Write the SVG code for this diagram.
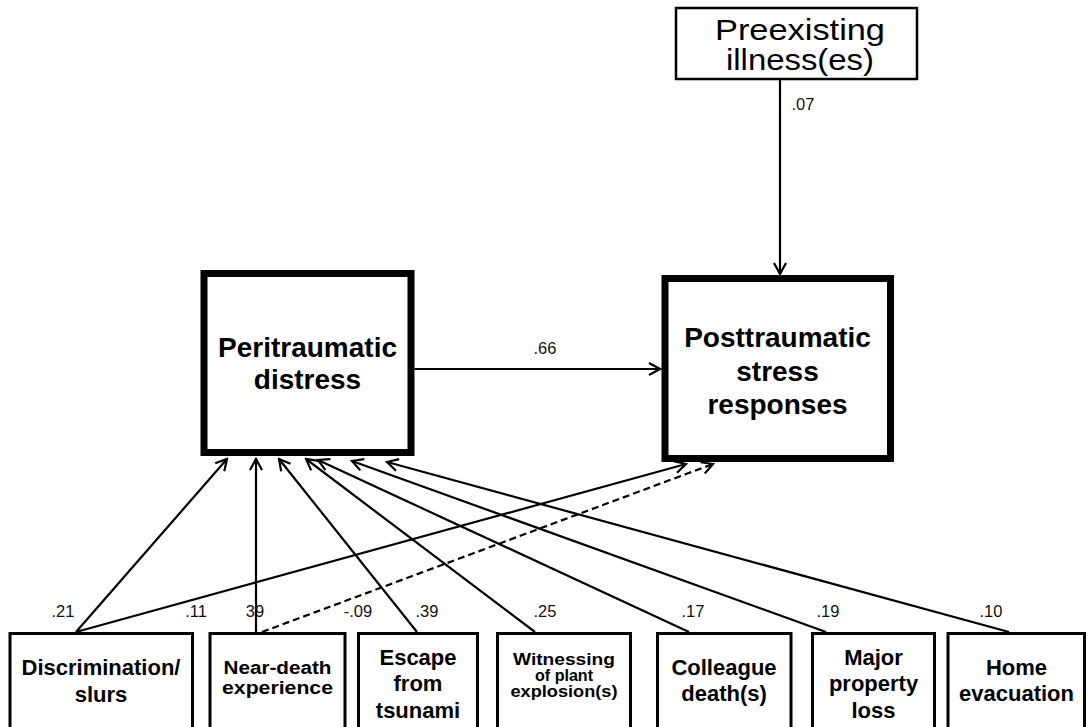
<svg xmlns="http://www.w3.org/2000/svg" width="1090" height="727" viewBox="0 0 1090 727">
<style>
.box{fill:#fff;stroke:#000;stroke-width:3}
.big{fill:#fff;stroke:#000;stroke-width:7}
.top{fill:#fff;stroke:#000;stroke-width:2.5}
.t{font-family:"Liberation Sans",Arial,sans-serif;font-weight:bold;text-anchor:middle;fill:#000}
.r{font-family:"Liberation Sans",Arial,sans-serif;text-anchor:middle;fill:#000}
.lab{font-family:"Liberation Sans",Arial,sans-serif;font-size:16.5px;text-anchor:middle;fill:#111}
.c{stroke:#000;stroke-width:2.2;fill:none;marker-end:url(#arr)}
.d{stroke-dasharray:7 4}
</style>
<defs>
<marker id="arr" markerUnits="userSpaceOnUse" markerWidth="16" markerHeight="16" viewBox="-14 -8 16 16" refX="0" refY="0" orient="auto">
<path d="M-11,-6 L0,0 L-11,6" fill="none" stroke="#000" stroke-width="2.2"/>
</marker>
</defs>
<rect width="1090" height="727" fill="#fff"/>
<g id="connectors">
<line class="c" x1="780" y1="80" x2="780" y2="274"/>
<line class="c" x1="414.5" y1="369" x2="660" y2="369"/>
<line class="c" x1="76" y1="632" x2="227" y2="459"/>
<line class="c" x1="76" y1="632" x2="686" y2="464"/>
<line class="c" x1="256" y1="632" x2="256" y2="459"/>
<line class="c d" x1="262" y1="632" x2="713" y2="464"/>
<line class="c" x1="417" y1="632" x2="279" y2="459"/>
<line class="c" x1="535" y1="632" x2="306" y2="459"/>
<line class="c" x1="689" y1="632" x2="318" y2="460"/>
<line class="c" x1="826" y1="632" x2="352" y2="461"/>
<line class="c" x1="1009" y1="632" x2="387" y2="462"/>
<text class="lab" x="803" y="110">.07</text>
<text class="lab" x="545" y="354">.66</text>
<text class="lab" x="63" y="617">.21</text>
<text class="lab" x="196" y="617">.11</text>
<text class="lab" x="255" y="617">39</text>
<text class="lab" x="358" y="617">-.09</text>
<text class="lab" x="427" y="617">.39</text>
<text class="lab" x="545" y="617">.25</text>
<text class="lab" x="693" y="617">.17</text>
<text class="lab" x="828" y="617">.19</text>
<text class="lab" x="991" y="617">.10</text>
</g>
<g id="preexisting">
<rect class="top" x="676" y="8" width="241" height="71"/>
<text class="r" font-size="29" x="800" y="40" textLength="170" lengthAdjust="spacingAndGlyphs">Preexisting</text>
<text class="r" font-size="29" x="800" y="70" textLength="148" lengthAdjust="spacingAndGlyphs">illness(es)</text>
</g>
<g id="peritraumatic">
<rect class="big" x="204" y="273.5" width="207" height="179"/>
<text class="t" font-size="28" x="307.5" y="357">Peritraumatic</text>
<text class="t" font-size="28" x="307.5" y="389">distress</text>
</g>
<g id="posttraumatic">
<rect class="big" x="665" y="278.5" width="225.5" height="180"/>
<text class="t" font-size="28" x="777.5" y="347">Posttraumatic</text>
<text class="t" font-size="28" x="777.5" y="381">stress</text>
<text class="t" font-size="28" x="777.5" y="414">responses</text>
</g>
<g id="discrimination">
<rect class="box" x="10" y="633.5" width="182.5" height="110"/>
<text class="t" font-size="22" x="101" y="675">Discrimination/</text>
<text class="t" font-size="22" x="101" y="702">slurs</text>
</g>
<g id="near-death">
<rect class="box" x="210" y="633.5" width="135" height="110"/>
<text class="t" font-size="18" x="277.5" y="674" textLength="108" lengthAdjust="spacingAndGlyphs">Near-death</text>
<text class="t" font-size="18" x="277.5" y="694" textLength="111" lengthAdjust="spacingAndGlyphs">experience</text>
</g>
<g id="escape">
<rect class="box" x="358.5" y="633.5" width="119" height="110"/>
<text class="t" font-size="22" x="418" y="665">Escape</text>
<text class="t" font-size="22" x="418" y="691">from</text>
<text class="t" font-size="22" x="418" y="718">tsunami</text>
</g>
<g id="witnessing">
<rect class="box" x="497.5" y="633.5" width="133" height="110"/>
<text class="t" font-size="16" x="564" y="665" textLength="102" lengthAdjust="spacingAndGlyphs">Witnessing</text>
<text class="t" font-size="16" x="564" y="681" textLength="58" lengthAdjust="spacingAndGlyphs">of plant</text>
<text class="t" font-size="16" x="564" y="697" textLength="107" lengthAdjust="spacingAndGlyphs">explosion(s)</text>
</g>
<g id="colleague">
<rect class="box" x="657.5" y="633.5" width="133.5" height="110"/>
<text class="t" font-size="22" x="724" y="675">Colleague</text>
<text class="t" font-size="22" x="724" y="701">death(s)</text>
</g>
<g id="major">
<rect class="box" x="812.5" y="633.5" width="122" height="110"/>
<text class="t" font-size="22" x="873.5" y="665">Major</text>
<text class="t" font-size="22" x="873.5" y="691">property</text>
<text class="t" font-size="22" x="873.5" y="718">loss</text>
</g>
<g id="home">
<rect class="box" x="948" y="633.5" width="136.5" height="110"/>
<text class="t" font-size="22" x="1016.5" y="675">Home</text>
<text class="t" font-size="22" x="1016.5" y="701">evacuation</text>
</g>
</svg>
